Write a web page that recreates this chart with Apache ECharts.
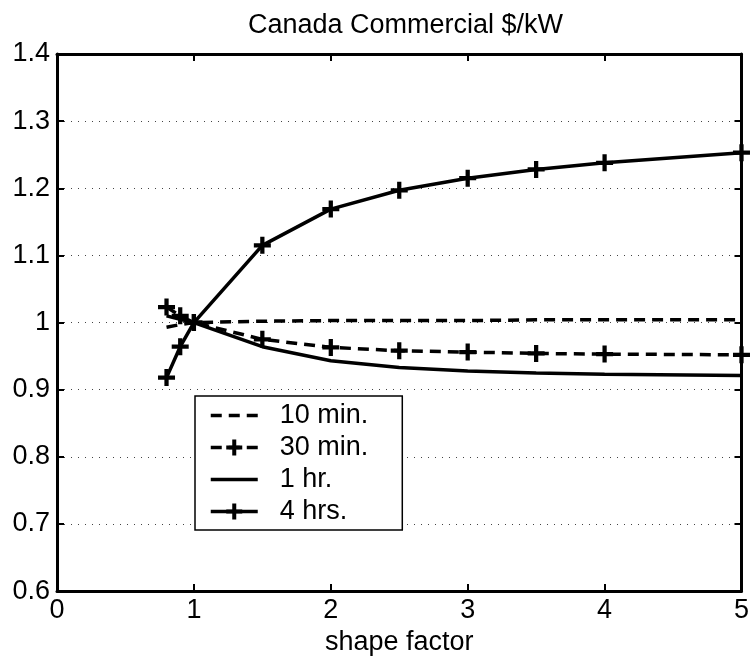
<!DOCTYPE html>
<html>
<head>
<meta charset="utf-8">
<script src="https://cdn.jsdelivr.net/npm/echarts@6/dist/echarts.min.js"></script>
<style>
html,body{margin:0;padding:0;background:#fff}
#chart{width:752px;height:661px}
</style>
</head>
<body>
<div id="chart"></div>
<script>
var shapeFactor = [0.8, 0.9, 1, 1.5, 2, 2.5, 3, 3.5, 4, 5];
var min10 = [0.993, 0.997, 1.0, 1.002, 1.003, 1.003, 1.003, 1.004, 1.004, 1.004];
var min30 = [1.023, 1.010, 1.0, 0.975, 0.963, 0.958, 0.956, 0.954, 0.953, 0.952];
var hr1 = [1.010, 1.005, 1.0, 0.964, 0.943, 0.933, 0.928, 0.925, 0.923, 0.921];
var hr4 = [0.918, 0.964, 1.0, 1.115, 1.169, 1.197, 1.215, 1.228, 1.238, 1.253];
var names = ['10 min.', '30 min.', '1 hr.', '4 hrs.'];

var font = 'Liberation Sans, Arial, Helvetica, sans-serif';
var plus = 'path://M6,0H10V6H16V10H10V16H6V10H0V6H6Z';

function pairs(ys) {
    return shapeFactor.map(function (x, i) { return [x, ys[i]]; });
}

function line(name, ys, dashed, marks) {
    return {
        name: name,
        type: 'line',
        data: pairs(ys),
        symbol: marks ? plus : 'none',
        symbolSize: 17,
        showSymbol: marks,
        clip: false,
        itemStyle: {color: '#000'},
        lineStyle: {color: '#000', width: 3.5, type: dashed ? [11, 7] : 'solid'},
        emphasis: {disabled: true},
        animation: false
    };
}

// the no-marker series still get a circle in the legend, hide it
var legendData = names.map(function (n, i) {
    var item = {name: n};
    if (i === 0 || i === 2) item.itemStyle = {opacity: 0};
    return item;
});

var chart = echarts.init(document.getElementById('chart'));
var option = {
    backgroundColor: '#fff',
    animation: false,
    title: {
        text: 'Canada Commercial $/kW',
        left: 243,
        top: 7,
        textStyle: {fontFamily: font, fontSize: 27, fontWeight: 'normal', color: '#000'}
    },
    grid: {left: 57, right: 8, top: 54, bottom: 64, containLabel: false},
    legend: {
        left: 195,
        top: 396,
        orient: 'vertical',
        data: legendData,
        itemWidth: 47,
        itemHeight: 20,
        itemGap: 5,
        padding: [6, 34, 5, 14],
        backgroundColor: '#fff',
        borderColor: '#000',
        borderWidth: 1.5,
        borderRadius: 0,
        selectedMode: false,
        lineStyle: {width: 3.5},
        textStyle: {fontFamily: font, fontSize: 27, color: '#000', padding: [0, 0, 0, 17]}
    },
    xAxis: [{
        type: 'value',
        min: 0, max: 5, interval: 1,
        name: 'shape factor',
        nameLocation: 'middle',
        nameGap: 30,
        nameTextStyle: {fontFamily: font, fontSize: 27, color: '#000'},
        axisLine: {show: true, onZero: false, lineStyle: {color: '#000', width: 3}},
        axisTick: {show: true, inside: true, length: 7, lineStyle: {color: '#000', width: 2}},
        axisLabel: {fontFamily: font, fontSize: 27, color: '#000', margin: 6},
        splitLine: {show: false}
    }, {
        type: 'value',
        position: 'top',
        min: 0, max: 5, interval: 1,
        axisLine: {show: true, onZero: false, lineStyle: {color: '#000', width: 3}},
        axisTick: {show: true, inside: true, length: 7, lineStyle: {color: '#000', width: 2}},
        axisLabel: {show: false},
        splitLine: {show: false}
    }],
    yAxis: [{
        type: 'value',
        min: 0.6, max: 1.4, interval: 0.1,
        axisLine: {show: true, onZero: false, lineStyle: {color: '#000', width: 3}},
        axisTick: {show: true, inside: true, length: 7, lineStyle: {color: '#000', width: 2}},
        axisLabel: {fontFamily: font, fontSize: 27, color: '#000', margin: 7},
        splitLine: {show: true, lineStyle: {color: '#444', width: 1, type: [1, 6]}}
    }, {
        type: 'value',
        position: 'right',
        min: 0.6, max: 1.4, interval: 0.1,
        axisLine: {show: true, onZero: false, lineStyle: {color: '#000', width: 3}},
        axisTick: {show: true, inside: true, length: 7, lineStyle: {color: '#000', width: 2}},
        axisLabel: {show: false},
        splitLine: {show: false}
    }],
    series: [
        line(names[0], min10, true, false),
        line(names[1], min30, true, true),
        line(names[2], hr1, false, false),
        line(names[3], hr4, false, true)
    ]
};
chart.setOption(option);
</script>
</body>
</html>
